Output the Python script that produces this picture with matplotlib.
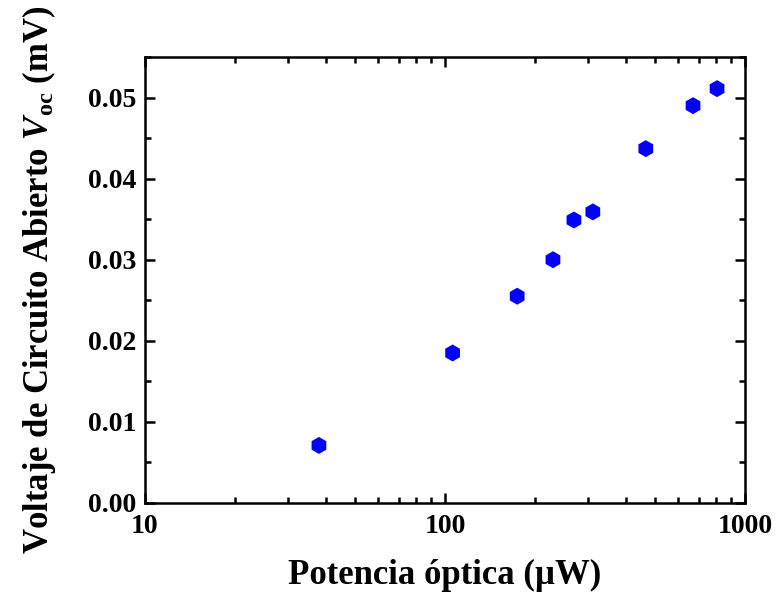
import matplotlib
matplotlib.use("Agg")
import matplotlib.pyplot as plt
from matplotlib.ticker import LogLocator, MultipleLocator, FixedLocator, FixedFormatter

power_uW = [38, 106, 174, 229, 269, 311, 467, 671, 807]
voc_mV = [0.0071, 0.0185, 0.0255, 0.0300, 0.0349, 0.0359, 0.0437, 0.0490, 0.0511]
xtick_vals = [10, 100, 1000]
xtick_labels = ["10", "100", "1000"]
ytick_vals = [0.00, 0.01, 0.02, 0.03, 0.04, 0.05]
ytick_labels = ["0.00", "0.01", "0.02", "0.03", "0.04", "0.05"]

plt.rcParams['font.family'] = ['Liberation Serif', 'DejaVu Serif']
plt.rcParams['font.weight'] = 'bold'
plt.rcParams['mathtext.fontset'] = 'custom'
plt.rcParams['mathtext.rm'] = 'Liberation Serif:bold'
plt.rcParams['mathtext.bf'] = 'Liberation Serif:bold'
plt.rcParams['mathtext.it'] = 'Liberation Serif:italic:bold'

fig = plt.figure(figsize=(7.78, 5.96), dpi=100)
ax = fig.add_axes([145/778, 1 - 503/596, 600/778, 446/596])

ax.scatter(power_uW, voc_mV, marker='h', s=150, color='#0000ff', edgecolors='none', zorder=3)

ax.set_xscale('log')
ax.set_xlim(10, 1000)
ax.set_ylim(0, 0.055)

ax.xaxis.set_major_locator(FixedLocator(xtick_vals))
ax.xaxis.set_major_formatter(FixedFormatter(xtick_labels))
ax.xaxis.set_minor_locator(LogLocator(base=10, subs=range(2, 10)))
ax.xaxis.set_minor_formatter(FixedFormatter([]))
ax.yaxis.set_major_locator(FixedLocator(ytick_vals))
ax.yaxis.set_major_formatter(FixedFormatter(ytick_labels))
ax.yaxis.set_minor_locator(MultipleLocator(0.005))

ax.tick_params(which='both', direction='in', top=True, right=True, width=1.8, labelsize=20)
ax.tick_params(which='major', length=7)
ax.tick_params(axis='y', which='major', pad=6)
ax.tick_params(axis='x', which='major', pad=8)
ax.tick_params(which='minor', length=4)
for lab in ax.get_xticklabels() + ax.get_yticklabels():
    lab.set_fontweight('bold')
for sp in ax.spines.values():
    sp.set_linewidth(1.8)

ax.set_xlabel('Potencia óptica (µW)', fontsize=25, fontweight='bold', labelpad=14)
ax.set_ylabel(r'Voltaje de Circuito Abierto $\mathit{V}_{\mathrm{oc}}$ (mV)', fontsize=25, fontweight='bold', labelpad=22)

fig.savefig('out.png', dpi=100)
